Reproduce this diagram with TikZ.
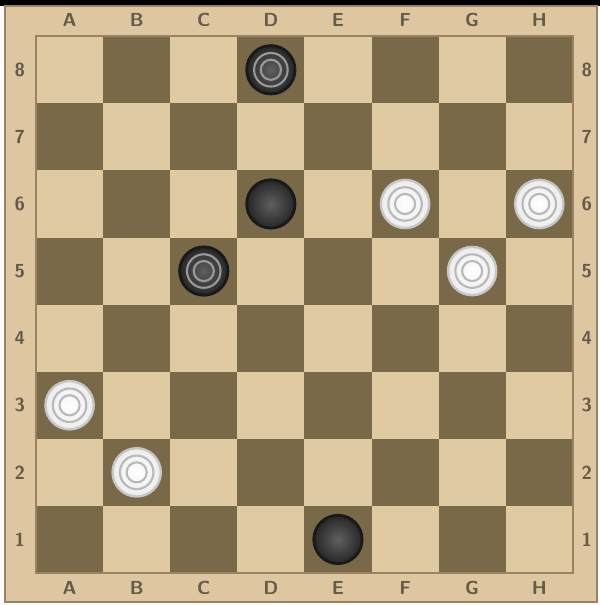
\documentclass[tikz,border=0pt]{standalone}
\usepackage{tikz}
\definecolor{lightsq}{HTML}{DFCAA2}
\definecolor{darksq}{HTML}{7A6949}
\definecolor{framecol}{HTML}{DEC6A0}
\definecolor{frameedge}{HTML}{9A8262}
\definecolor{labelcol}{HTML}{655B4A}

\begin{document}
\begin{tikzpicture}[
    lbl/.style={font=\sffamily\bfseries\fontsize{8}{9}\selectfont, text=labelcol},
    blk/.style={circle, minimum size=0.72cm, inner sep=0pt, draw=black!90,
      line width=1.2pt, inner color=gray!75!black, outer color=black!85},
    wht/.style={circle, minimum size=0.72cm, inner sep=0pt, draw=gray!45,
      line width=1pt, inner color=white, outer color=gray!15},
    bring/.style={draw=gray!80, line width=0.9pt},
    wring/.style={draw=gray!55, line width=0.9pt}]

  \useasboundingbox (-0.537,-0.477) rectangle (8.405,8.54);
  \fill[black] (-0.537,8.45) rectangle (8.405,8.54);

  % frame
  \draw[fill=framecol, draw=frameedge, line width=0.8pt] (-0.462,-0.432) rectangle (8.36,8.45);

  % squares
  \foreach \i in {0,...,7}
    \foreach \j in {0,...,7} {
      \pgfmathparse{mod(\i+\j,2)==0 ? "darksq" : "lightsq"}
      \fill[\pgfmathresult] (\i,\j) rectangle ++(1,1);
    }
  \draw[frameedge, line width=0.8pt] (0,0) rectangle (8,8);

  % labels
  \foreach \c [count=\k from 0] in {A,B,C,D,E,F,G,H} {
    \node[lbl] (top\c) at (\k+0.5,8.24) {\c};
    \node[lbl] (bot\c) at (\k+0.5,-0.224) {\c};
  }
  \foreach \r in {1,...,8} {
    \node[lbl] (left\r) at (-0.24,\r-0.5) {\r};
    \node[lbl] (right\r) at (8.21,\r-0.5) {\r};
  }

  % black pieces
  \node[blk] (pD8) at (3.5,7.5) {};
  \node[blk] (pC5) at (2.5,4.5) {};
  \node[blk] (pD6) at (3.5,5.5) {};
  \node[blk] (pE1) at (4.5,0.5) {};
  \foreach \p in {pD8,pC5} {
    \draw[bring] (\p.center) circle (0.25);
    \draw[bring] (\p.center) circle (0.15);
  }

  % white pieces
  \node[wht] (pF6) at (5.5,5.5) {};
  \node[wht] (pH6) at (7.5,5.5) {};
  \node[wht] (pG5) at (6.5,4.5) {};
  \node[wht] (pA3) at (0.5,2.5) {};
  \node[wht] (pB2) at (1.5,1.5) {};
  \foreach \p in {pF6,pH6,pG5,pA3,pB2} {
    \draw[wring] (\p.center) circle (0.25);
    \draw[wring] (\p.center) circle (0.15);
  }
\end{tikzpicture}
\end{document}
